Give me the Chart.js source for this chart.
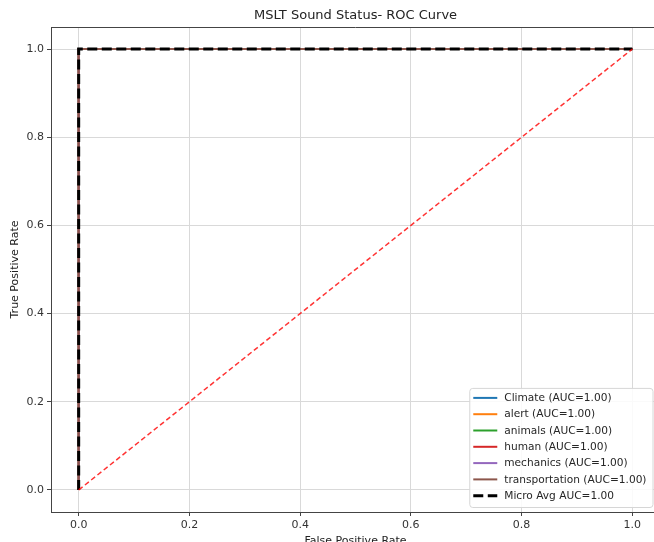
<!DOCTYPE html>
<html>
<head>
<meta charset="utf-8">
<script src="https://cdn.jsdelivr.net/npm/chart.js@4"></script>
<style>
  body { margin: 0; background: #fff; }
  #wrap { width: 654px; height: 542px; overflow: hidden; position: relative; }
  #rocChart { position: absolute; left: 0; top: 0; }
</style>
</head>
<body>
<div id="wrap">
  <canvas id="rocChart" width="680" height="560" style="width:680px;height:560px"></canvas>
</div>
<script>
// ROC data
const classNames = ["Climate", "alert", "animals", "human", "mechanics", "transportation"];
const classColors = ["#1f77b4", "#ff7f0e", "#2ca02c", "#d62728", "#9467bd", "#8c564b"];
const classAuc = [1.00, 1.00, 1.00, 1.00, 1.00, 1.00];
const classFpr = [0, 0, 1];
const classTpr = [0, 1, 1];

const microFpr = [0, 0, 1];
const microTpr = [0, 1, 1];
const microAuc = 1.00;

const chanceX = [0, 1];
const chanceY = [0, 1];

const tickValues = [0, 0.2, 0.4, 0.6, 0.8, 1.0];
const tickLabels = ["0.0", "0.2", "0.4", "0.6", "0.8", "1.0"];

const FONT = "'DejaVu Sans', sans-serif";

function toPoints(xs, ys) {
    return xs.map((x, i) => ({ x: x, y: ys[i] }));
}

// one line per class
const datasets = classNames.map((name, i) => ({
    label: name + " (AUC=" + classAuc[i].toFixed(2) + ")",
    data: toPoints(classFpr, classTpr),
    borderColor: classColors[i],
    borderWidth: 2,
    order: 10 - i
}));

datasets.push({
    label: "Micro Avg AUC=" + microAuc.toFixed(2),
    data: toPoints(microFpr, microTpr),
    borderColor: "#000",
    borderWidth: 3,
    borderDash: [10, 4.5],
    order: 2
});

datasets.push({
    label: "chance",
    data: toPoints(chanceX, chanceY),
    borderColor: "rgba(255,0,0,0.8)",
    borderWidth: 1.5,
    borderDash: [5, 3],
    order: 1,
    hideInLegend: true
});

// top spine + legend box in the lower right corner
const framePlugin = {
    id: "frame",
    afterDraw(chart) {
        const ctx = chart.ctx;
        const area = chart.chartArea;
        ctx.save();
        ctx.strokeStyle = "#444";
        ctx.lineWidth = 1;
        ctx.beginPath();
        ctx.moveTo(area.left, area.top + 0.5);
        ctx.lineTo(area.right, area.top + 0.5);
        ctx.stroke();

        const items = chart.data.datasets.filter(d => !d.hideInLegend);
        ctx.font = "10.6px " + FONT;
        let maxW = 0;
        items.forEach(d => { maxW = Math.max(maxW, ctx.measureText(d.label).width); });
        const rowH = 16.3;
        const boxW = 35 + maxW + 6;
        const boxH = rowH * items.length + 5;
        const right = area.right - 7.5;
        const bottom = area.bottom - 5;
        const left = right - boxW;
        const top = bottom - boxH;

        ctx.fillStyle = "rgba(255,255,255,0.85)";
        ctx.strokeStyle = "#d6d6d6";
        ctx.beginPath();
        ctx.roundRect(left + 0.5, top + 0.5, boxW, boxH, 3);
        ctx.fill();
        ctx.stroke();

        items.forEach((d, i) => {
            const y = top + 10 + i * rowH;
            ctx.strokeStyle = d.borderColor;
            ctx.lineWidth = d.borderWidth;
            ctx.setLineDash(d.borderDash || []);
            ctx.beginPath();
            ctx.moveTo(left + 4, y);
            ctx.lineTo(left + 28, y);
            ctx.stroke();
            ctx.setLineDash([]);
            ctx.fillStyle = "#262626";
            ctx.textBaseline = "middle";
            ctx.textAlign = "left";
            ctx.fillText(d.label, left + 35, y + 0.5);
        });
        ctx.restore();
    }
};

const axisCommon = {
    type: "linear",
    min: -0.05,
    max: 1.05,
    afterBuildTicks: scale => {
        scale.ticks = tickValues.map(v => ({ value: v }));
    },
    grid: {
        color: "#d9d9d9",
        lineWidth: 1,
        tickColor: "#444",
        tickLength: 4
    },
    border: { color: "#444", width: 1 },
    ticks: {
        color: "#333",
        font: { family: FONT, size: 11 },
        padding: 3,
        callback: (value) => tickLabels[tickValues.indexOf(value)]
    }
};

new Chart(document.getElementById("rocChart"), {
    type: "scatter",
    data: { datasets: datasets },
    plugins: [framePlugin],
    options: {
        responsive: false,
        animation: false,
        showLine: true,
        elements: {
            point: { radius: 0, hoverRadius: 0 },
            line: { tension: 0, fill: false }
        },
        layout: { padding: { left: 0, right: 20, top: 0, bottom: 0 } },
        plugins: {
            legend: { display: false },
            tooltip: { enabled: false },
            title: {
                display: true,
                text: "MSLT Sound Status- ROC Curve",
                color: "#222",
                fullSize: false,
                font: { family: FONT, size: 13, weight: "normal", lineHeight: 1.2 },
                padding: { top: 8.2, bottom: 3.2 }
            }
        },
        scales: {
            x: Object.assign({}, axisCommon, {
                position: "bottom",
                afterFit: s => { s.height = 48; },
                title: {
                    display: true,
                    text: "False Positive Rate",
                    color: "#222",
                    font: { family: FONT, size: 11 },
                    padding: { top: 0, bottom: 12.5 }
                }
            }),
            y: Object.assign({}, axisCommon, {
                position: "left",
                afterFit: s => { s.width = 51; },
                title: {
                    display: true,
                    text: "True Positive Rate",
                    color: "#222",
                    font: { family: FONT, size: 11 },
                    padding: { top: 9, bottom: 0 }
                }
            })
        }
    }
});
</script>
</body>
</html>
